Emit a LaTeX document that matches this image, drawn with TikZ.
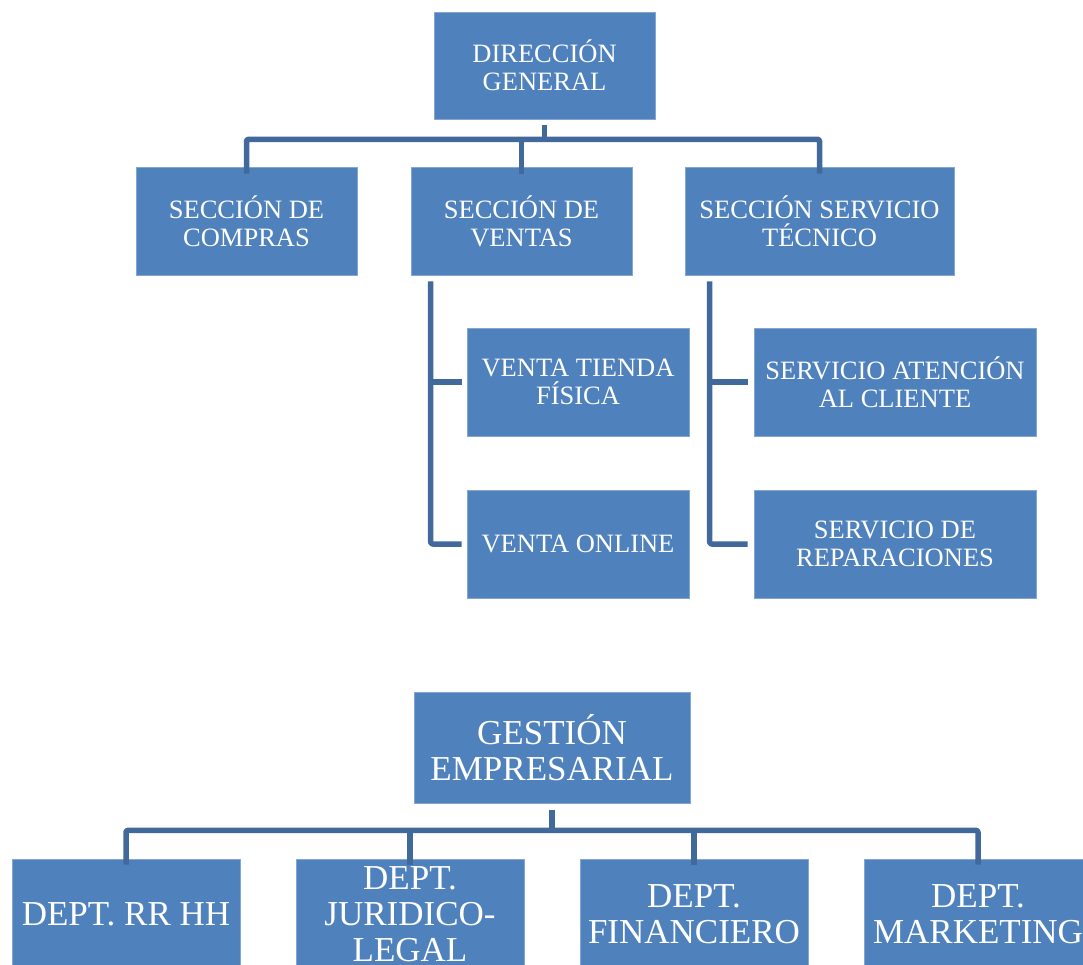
\documentclass[tikz,border=0pt]{standalone}
\usepackage{fontspec}
\setmainfont{Liberation Serif}
\definecolor{boxblue}{HTML}{4F81BD}
\definecolor{lineblue}{HTML}{41699C}
\begin{document}
\begin{tikzpicture}[x=1pt,y=-1pt,
  box/.style={fill=boxblue, draw=boxblue!70!white, line width=0.6pt, text=white, align=center, inner sep=0pt,
    font=\fontsize{26.5}{28}\selectfont},
  bigbox/.style={box, font=\fontsize{35}{36}\selectfont},
  conn/.style={draw=lineblue, line width=5.5pt, line join=round, rounded corners=2pt}]
\useasboundingbox (0,0) rectangle (1083,964);
% top chart
\node[box, minimum width=221pt, minimum height=107pt] (dg) at (544.5,65.5) {DIRECCIÓN\\GENERAL};
\node[box, minimum width=221pt, minimum height=108pt] (compras) at (246.5,221) {SECCIÓN DE\\COMPRAS};
\node[box, minimum width=221pt, minimum height=108pt] (ventas) at (521.5,221) {SECCIÓN DE\\VENTAS};
\node[box, minimum width=269pt, minimum height=108pt] (tecnico) at (819.5,221) {SECCIÓN SERVICIO\\TÉCNICO};
\node[box, minimum width=222pt, minimum height=108pt] (tienda) at (578,382) {VENTA TIENDA\\FÍSICA};
\node[box, minimum width=222pt, minimum height=108pt] (online) at (578,544) {VENTA ONLINE};
\node[box, minimum width=282pt, minimum height=108pt] (atencion) at (895,382) {SERVICIO ATENCIÓN\\AL CLIENTE};
\node[box, minimum width=282pt, minimum height=108pt] (repar) at (895,544) {SERVICIO DE\\REPARACIONES};
\coordinate (bar1) at ([yshift=-20pt]dg.south);
\draw[conn] ([yshift=-6pt]dg.south) -- (bar1);
\draw[conn] ([yshift=-7pt]compras.north) |- (bar1) -| ([yshift=-7pt]tecnico.north);
\draw[conn] ([yshift=-7pt]ventas.north) -- (ventas.north |- bar1);
\draw[conn] ([xshift=20pt,yshift=-6pt]ventas.south west) |- ([xshift=-5pt]online.west);
\draw[conn] ([xshift=20pt]ventas.south west |- tienda.west) -- ([xshift=-5pt]tienda.west);
\draw[conn] ([xshift=25pt,yshift=-6pt]tecnico.south west) |- ([xshift=-6pt]repar.west);
\draw[conn] ([xshift=25pt]tecnico.south west |- atencion.west) -- ([xshift=-6pt]atencion.west);
% bottom chart
\node[bigbox, minimum width=276pt, minimum height=111pt] (ge) at (552,747.5) {GESTIÓN\\EMPRESARIAL};
\node[bigbox, minimum width=228pt, minimum height=111pt] (rrhh) at (126,914.5) {DEPT. RR HH};
\node[bigbox, minimum width=228pt, minimum height=111pt] (jur) at (410,914.5) {DEPT.\\JURIDICO-\\LEGAL};
\node[bigbox, minimum width=228pt, minimum height=111pt] (fin) at (694,914.5) {DEPT.\\FINANCIERO};
\node[bigbox, minimum width=228pt, minimum height=111pt] (mkt) at (978,914.5) {DEPT.\\MARKETING};
\coordinate (bar2) at ([yshift=-27pt]ge.south);
\draw[conn] ([yshift=-7pt]ge.south) -- (bar2);
\draw[conn] ([yshift=-6pt]rrhh.north) |- (bar2) -| ([yshift=-6pt]mkt.north);
\draw[conn] ([yshift=-6pt]jur.north) -- (jur.north |- bar2);
\draw[conn] ([yshift=-6pt]fin.north) -- (fin.north |- bar2);
\end{tikzpicture}
\end{document}
